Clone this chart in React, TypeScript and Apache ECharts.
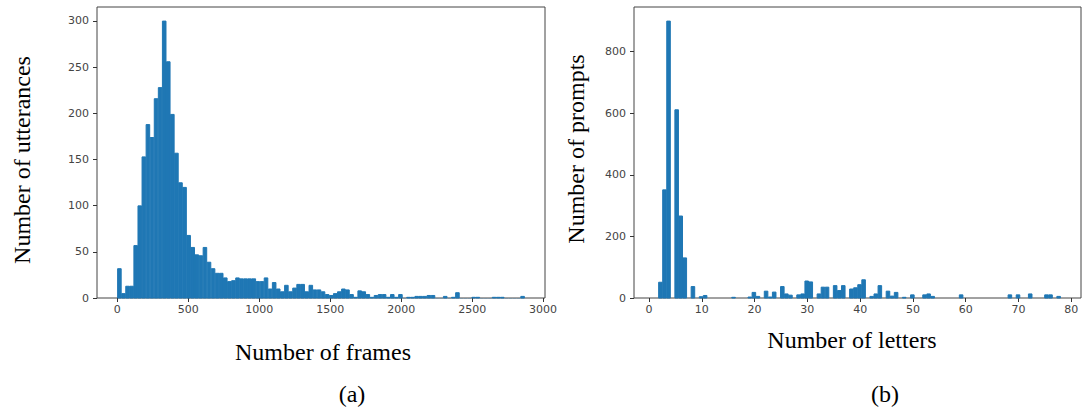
import React, { useEffect, useRef } from "react";
import * as echarts from "echarts";

// ---- Data: (a) frames histogram, 100 equal bins over [framesMin, framesMax]
const framesMin = 0;
const framesMax = 2870;
const frameCounts = [
  32, 5, 13, 13, 57, 100, 153, 188, 174, 216,
  228, 300, 256, 199, 157, 125, 120, 68, 55, 47,
  46, 55, 39, 32, 27, 27, 22, 18, 19, 22,
  21, 21, 21, 21, 18, 18, 22, 10, 17, 10,
  7, 14, 7, 11, 15, 15, 7, 14, 9, 9,
  7, 4, 3, 5, 7, 10, 9, 4, 1, 8,
  7, 4, 1, 3, 4, 4, 1, 4, 1, 4,
  0, 1, 1, 2, 2, 2, 3, 3, 0, 0,
  2, 0, 1, 6, 0, 0, 0, 1, 1, 0,
  0, 0, 1, 1, 1, 0, 0, 0, 0, 2,
];

// ---- Data: (b) number of letters per prompt (value -> count), 100 bins over [lettersMin, lettersMax]
const lettersMin = 1;
const lettersMax = 78;
const letterValues = [
  2, 3, 4, 5, 6, 7, 8, 10, 11, 16, 19, 20, 21, 22, 23, 24, 25, 26, 27, 28, 29,
  30, 31, 32, 33, 34, 35, 36, 37, 38, 39, 40, 41, 42, 43, 44, 45, 46, 47, 48,
  50, 52, 53, 54, 59, 68, 70, 72, 75, 76, 78,
];
const letterCounts = [
  52, 352, 900, 612, 267, 131, 38, 5, 9, 3, 4, 19, 6, 23, 4, 20, 38, 14, 10, 11, 14,
  56, 53, 14, 36, 36, 41, 25, 41, 30, 34, 44, 60, 6, 14, 41, 23, 7, 19, 3,
  11, 11, 14, 6, 11, 11, 11, 14, 11, 11, 6,
];

const framesXTicks = [0, 500, 1000, 1500, 2000, 2500, 3000];
const framesYTicks = [0, 50, 100, 150, 200, 250, 300];
const lettersXTicks = [0, 10, 20, 30, 40, 50, 60, 70, 80];
const lettersYTicks = [0, 200, 400, 600, 800];

const NBINS = 100;
const BAR = "#1f77b4";

function framesData() {
  const w = (framesMax - framesMin) / NBINS;
  return frameCounts.map((c, i) => [framesMin + i * w, framesMin + (i + 1) * w, c]);
}

function lettersData() {
  const w = (lettersMax - lettersMin) / NBINS;
  return letterValues.map((v, i) => {
    let idx = Math.floor((v - lettersMin) / w + 1e-9);
    if (idx >= NBINS) idx = NBINS - 1;
    return [lettersMin + idx * w, lettersMin + (idx + 1) * w, letterCounts[i]];
  });
}

const renderBar = (params: any, api: any) => {
  const x0 = api.value(0);
  const x1 = api.value(1);
  const v = api.value(2);
  const p0 = api.coord([x0, v]);
  const p1 = api.coord([x1, 0]);
  return {
    type: "rect",
    shape: { x: p0[0] + 0.25, y: p0[1] + 0.25, width: p1[0] - p0[0] - 0.5, height: p1[1] - p0[1] - 0.25 },
    style: { fill: BAR, stroke: v > 0 ? BAR : "none", lineWidth: 1 },
  };
};

const tickFont = { fontSize: 11, color: "#444", fontFamily: "DejaVu Sans" };
const plain = (v: number) => String(v);

function xAxisCfg(grid: number, min: number, max: number, ticks: number[]) {
  return {
    type: "value",
    gridIndex: grid,
    min,
    max,
    axisLine: { show: false, onZero: false },
    splitLine: { show: false },
    axisTick: { show: true, customValues: ticks, length: 4, lineStyle: { color: "#333" } },
    axisLabel: { customValues: ticks, margin: 6, formatter: plain, ...tickFont },
  };
}

function yAxisCfg(grid: number, min: number, max: number, ticks: number[]) {
  return {
    type: "value",
    gridIndex: grid,
    min,
    max,
    axisLine: { show: false, onZero: false },
    splitLine: { show: false },
    axisTick: { show: true, customValues: ticks, length: 4, lineStyle: { color: "#333" } },
    axisLabel: { customValues: ticks, margin: 8, formatter: plain, ...tickFont },
  };
}

const titleFont = { fontFamily: "Liberation Serif, Times New Roman, serif", fontSize: 24, fill: "#000" };

export default function App() {
  const ref = useRef<HTMLDivElement>(null);
  useEffect(() => {
    if (!ref.current) return;
    const chart = echarts.init(ref.current, undefined, { renderer: "svg" });
    const fSpan = framesMax - framesMin;
    const lSpan = lettersMax - lettersMin;
    chart.setOption({
      animation: false,
      backgroundColor: "#fff",
      grid: [
        { left: 97, top: 7, width: 448, height: 291, show: true, borderColor: "#444", borderWidth: 1, backgroundColor: "transparent" },
        { left: 634, top: 7, width: 447, height: 291, show: true, borderColor: "#444", borderWidth: 1, backgroundColor: "transparent" },
      ],
      xAxis: [
        xAxisCfg(0, framesMin - 0.05 * fSpan, framesMax + 0.05 * fSpan, framesXTicks),
        xAxisCfg(1, lettersMin - 0.05 * lSpan, lettersMax + 0.05 * lSpan, lettersXTicks),
      ],
      yAxis: [
        yAxisCfg(0, 0, Math.max(...frameCounts) * 1.05, framesYTicks),
        yAxisCfg(1, 0, Math.max(...letterCounts) * 1.05, lettersYTicks),
      ],
      series: [
        { type: "custom", xAxisIndex: 0, yAxisIndex: 0, renderItem: renderBar, encode: { x: [0, 1], y: 2 }, data: framesData() },
        { type: "custom", xAxisIndex: 1, yAxisIndex: 1, renderItem: renderBar, encode: { x: [0, 1], y: 2 }, data: lettersData() },
      ],
      graphic: [
        { type: "text", x: 323, y: 352, style: { text: "Number of frames", ...titleFont, align: "center", verticalAlign: "middle" } },
        { type: "text", x: 352, y: 394, style: { text: "(a)", ...titleFont, align: "center", verticalAlign: "middle" } },
        { type: "text", x: 852, y: 340, style: { text: "Number of letters", ...titleFont, align: "center", verticalAlign: "middle" } },
        { type: "text", x: 885, y: 394, style: { text: "(b)", ...titleFont, align: "center", verticalAlign: "middle" } },
        { type: "text", x: 22, y: 160, rotation: Math.PI / 2, style: { text: "Number of utterances", ...titleFont, align: "center", verticalAlign: "middle" } },
        { type: "text", x: 576, y: 149, rotation: Math.PI / 2, style: { text: "Number of prompts", ...titleFont, align: "center", verticalAlign: "middle" } },
      ],
    });
    return () => chart.dispose();
  }, []);
  return <div ref={ref} style={{ position: "fixed", left: 0, top: 0, width: 1083, height: 413 }} />;
}
